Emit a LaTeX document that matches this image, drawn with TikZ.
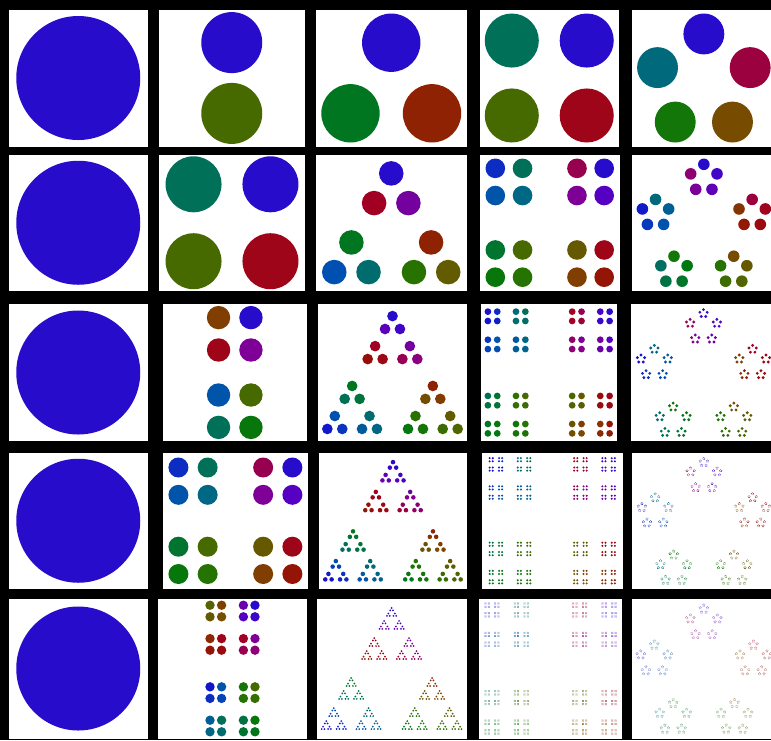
\documentclass[tikz,border=0pt]{standalone}
\def\Rof#1{\ifcase#1 150\or125\or85\or40\or0\or0\or0\or0\or20\or80\or135\or162\fi}
\def\Gof#1{\ifcase#1 15\or72\or100\or115\or120\or115\or105\or80\or18\or0\or0\or0\fi}
\def\Bof#1{\ifcase#1 5\or0\or0\or0\or15\or70\or128\or178\or205\or200\or140\or35\fi}
\newcommand\setfc[1]{%
  \pgfmathsetmacro\hh{mod(mod(#1,360)+360,360)}%
  \pgfmathtruncatemacro\hi{floor(\hh/30)}%
  \pgfmathtruncatemacro\hj{mod(\hi+1,12)}%
  \pgfmathsetmacro\hf{(\hh-30*\hi)/30}%
  \edef\rA{\Rof{\hi}}\edef\rB{\Rof{\hj}}%
  \edef\gA{\Gof{\hi}}\edef\gB{\Gof{\hj}}%
  \edef\bA{\Bof{\hi}}\edef\bB{\Bof{\hj}}%
  \pgfmathsetmacro\cR{(\rA*(1-\hf)+\rB*\hf)/255}%
  \pgfmathsetmacro\cG{(\gA*(1-\hf)+\gB*\hf)/255}%
  \pgfmathsetmacro\cB{(\bA*(1-\hf)+\bB*\hf)/255}%
  \definecolor{fc}{rgb}{\cR,\cG,\cB}}
% #1 levels left, #2 x, #3 y, #4 R, #5 hue, #6 hue step
\newcommand\fracta[6]{%
  \ifnum#1=0
    \setfc{#5}%
    \fill[fc] (#2,#3) circle[radius=\leafr pt];%
  \else
    \foreach \kk in {1,...,\nn}{%
      \pgfmathsetmacro\ang{360*(\kk-1)/\nn+\angoff}%
      \pgfmathsetmacro\nx{#2+#4*sin(\ang)*\xfac}%
      \pgfmathsetmacro\ny{#3-#4*cos(\ang)}%
      \pgfmathsetmacro\nh{#5+(\kk-1)*#6}%
      \pgfmathsetmacro\nR{#4*\sfac}%
      \pgfmathsetmacro\nst{#6/\nn}%
      \pgfmathtruncatemacro\nl{#1-1}%
      \edef\tmp{\noexpand\fracta{\nl}{\nx}{\ny}{\nR}{\nh}{\nst}}\tmp
    }%
  \fi}
% generic fitted panel: #1 n, #2 depth, #3 x0, #4 y0, #5 x1, #6 y1
\newcommand\gpanel[6]{%
  \def\nn{#1}%
  \fill[white] (#3,#4) rectangle (#5,#6);
  \pgfmathsetmacro\FF{(1-\sfac^#2)/(1-\sfac)}%
  \pgfmathsetmacro\lfac{\rhof*\sfac^(#2-1)}%
  \pgfmathsetmacro\Av{(#6-#4-2*\mrg)/((\tfac+\bfac)*\FF+2*\lfac)}%
  \pgfmathsetmacro\Ah{(#5-#3-2*\mrg)/(2*\wfac*\FF+2*\lfac)}%
  \pgfmathsetmacro\Afit{min(\Av,\Ah)}%
  \pgfmathsetmacro\leafr{max(\lfac*\Afit,\minr)}%
  \pgfmathsetmacro\pcx{(#3+#5)/2}%
  \pgfmathsetmacro\pcy{(#4+#6)/2+(\tfac-\bfac)*\FF*\Afit/2}%
  \pgfmathsetmacro\st{360/#1}%
  \fracta{#2}{\pcx}{\pcy}{\Afit}{250}{\st}}
\begin{document}
\begin{tikzpicture}[x=1pt,y=-1pt]
\useasboundingbox (0,0) rectangle (771,740);
\fill[black] (0,0) rectangle (771,740);
\def\xfac{1}\def\mrg{4}\def\minr{0.1}
% ---------- column 1
\setfc{250}
\foreach \ya/\yb in {9.5/146.5,154.5/291,304/441,453/588.5,598.5/738.5}{
  \fill[white] (9,\ya) rectangle (147.5,\yb);
  \fill[fc] (78.25,{(\ya+\yb)/2}) circle[radius=62pt];
}
% ---------- column 2 (n = 2)
\fill[white] (158.5,9.5) rectangle (305,146.5);
\def\nn{2}\def\angoff{0}\def\sfac{1}\def\leafr{30.5}
\fracta{1}{231.75}{78}{35.4}{250}{180}
\fill[white] (159,154.5) rectangle (305,291);
\def\nn{4}\def\angoff{45}\def\leafr{28}
\fracta{1}{232}{222.75}{54.4}{250}{90}
\fill[white] (162.5,304) rectangle (307,441);
\def\leafr{11.7}
\fracta{1}{234.75}{333.8}{22.9}{250}{45}
\fracta{1}{234.75}{411.2}{22.9}{70}{45}
\fill[white] (162.5,453) rectangle (308.3,588.5);
\def\sfac{0.345}\def\leafr{10}\def\xfac{1.07}
\fracta{2}{235.4}{520.75}{56}{250}{90}
\def\xfac{1}
\fill[white] (158.3,598.5) rectangle (306.7,738.5);
\def\sfac{0.347}\def\leafr{4.7}
\fracta{2}{232.5}{627.7}{23.6}{250}{45}
\fracta{2}{232.5}{709.3}{23.6}{70}{45}
% ---------- column 3 (n = 3)
\def\angoff{0}\def\sfac{0.43}\def\rhof{0.62}
\def\tfac{1}\def\bfac{0.5}\def\wfac{0.866}
\gpanel{3}{1}{316}{9.5}{466.5}{146.5}
\def\mrg{6}
\gpanel{3}{2}{316}{154.5}{466.5}{291}
\def\mrg{4}
\gpanel{3}{3}{318}{304}{467}{441}
\gpanel{3}{4}{319}{453}{467}{588.5}
\gpanel{3}{5}{316.7}{598.5}{466.5}{738.5}
% ---------- column 4 (n = 4)
\def\angoff{45}\def\sfac{0.3333}\def\rhof{0.51}
\def\tfac{0.7071}\def\bfac{0.7071}\def\wfac{0.7071}
\gpanel{4}{1}{479.5}{9.5}{619}{146.5}
\gpanel{4}{2}{479.5}{154.5}{620}{291}
\gpanel{4}{3}{480.5}{304}{617}{441}
\gpanel{4}{4}{481.5}{453}{623}{588.5}
\gpanel{4}{5}{479.3}{598.5}{621.7}{738.5}
% ---------- column 5 (n = 5)
\def\angoff{0}\def\sfac{0.272}\def\rhof{0.42}
\def\tfac{1}\def\bfac{0.809}\def\wfac{0.951}
\gpanel{5}{1}{631.7}{9.5}{776}{146.5}
\gpanel{5}{2}{631.7}{154.5}{776}{291}
\gpanel{5}{3}{631}{304}{776}{441}
\gpanel{5}{4}{631.7}{453}{776}{588.5}
\gpanel{5}{5}{631.7}{598.5}{776}{738.5}
\end{tikzpicture}
\end{document}
